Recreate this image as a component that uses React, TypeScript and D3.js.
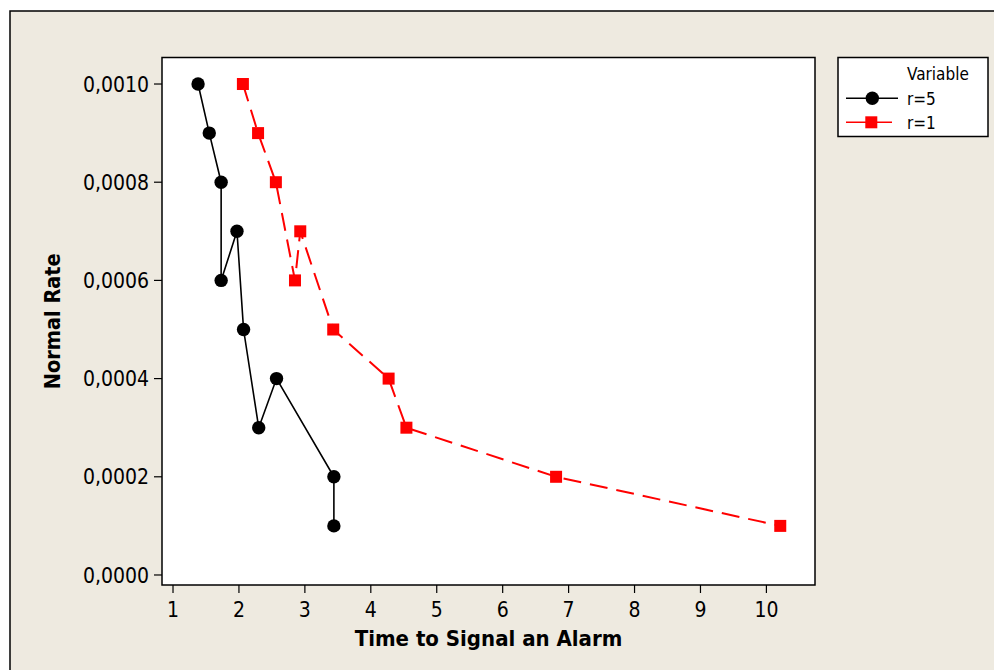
import React from "react";
import * as d3 from "d3";

// Time to signal an alarm for each normal rate, two run-length settings
const rateR5 = [0.001, 0.0009, 0.0008, 0.0006, 0.0007, 0.0005, 0.0003, 0.0004, 0.0002, 0.0001];
const timeR5 = [1.38, 1.55, 1.73, 1.73, 1.97, 2.07, 2.3, 2.57, 3.44, 3.44];
const rateR1 = [0.001, 0.0009, 0.0008, 0.0006, 0.0007, 0.0005, 0.0004, 0.0003, 0.0002, 0.0001];
const timeR1 = [2.06, 2.29, 2.56, 2.85, 2.93, 3.43, 4.27, 4.54, 6.81, 10.21];

const xTicks = [1, 2, 3, 4, 5, 6, 7, 8, 9, 10];
const yTicks = [0, 0.0002, 0.0004, 0.0006, 0.0008, 0.001];
const seriesNames = ["r=5", "r=1"];

const W = 994;
const H = 670;
const FONT = "'DejaVu Sans Condensed', 'DejaVu Sans', sans-serif";
const BG = "#eeeae0";

export default function App() {
  const plot = { left: 162, right: 815, top: 57.5, bottom: 585 };
  const x = d3.scaleLinear().domain([0.833, 10.737]).range([plot.left, plot.right]);
  const y = d3.scaleLinear().domain([-0.0000204, 0.001054]).range([plot.bottom, plot.top]);

  const ptsR5 = timeR5.map((t, i) => [t, rateR5[i]] as [number, number]);
  const ptsR1 = timeR1.map((t, i) => [t, rateR1[i]] as [number, number]);
  const line = d3
    .line<[number, number]>()
    .x((d) => x(d[0]))
    .y((d) => y(d[1]));

  const fmt = (v: number) => v.toFixed(4).replace(".", ",");

  const legX = 838;
  const legY = 57.5;

  return (
    <svg
      width={W}
      height={H}
      style={{ position: "absolute", left: 0, top: 0, display: "block" }}
      fontFamily={FONT}
    >
      <rect x={0} y={0} width={W} height={H} fill="#ffffff" />
      <rect x={10} y={11} width={W + 20} height={H + 20} fill={BG} stroke="#000" strokeWidth={1.5} />

      {/* plot area */}
      <rect
        x={plot.left}
        y={plot.top}
        width={plot.right - plot.left}
        height={plot.bottom - plot.top}
        fill="#fff"
        stroke="#000"
        strokeWidth={1.5}
      />

      {/* y axis */}
      {yTicks.map((v) => (
        <g key={"y" + v}>
          <line x1={plot.left - 8} x2={plot.left} y1={y(v)} y2={y(v)} stroke="#000" strokeWidth={1.2} />
          <text x={plot.left - 13} y={y(v)} dy="0.36em" textAnchor="end" fontSize={21} fill="#000">
            {fmt(v)}
          </text>
        </g>
      ))}

      {/* x axis */}
      {xTicks.map((v) => (
        <g key={"x" + v}>
          <line x1={x(v)} x2={x(v)} y1={plot.bottom} y2={plot.bottom + 8} stroke="#000" strokeWidth={1.2} />
          <text x={x(v)} y={plot.bottom + 32} textAnchor="middle" fontSize={21} fill="#000">
            {v}
          </text>
        </g>
      ))}

      <text
        x={(plot.left + plot.right) / 2}
        y={646}
        textAnchor="middle"
        fontSize={22}
        fontWeight="bold"
        fill="#000"
      >
        Time to Signal an Alarm
      </text>
      <text
        transform={`translate(60, ${(plot.top + plot.bottom) / 2}) rotate(-90)`}
        textAnchor="middle"
        fontSize={21.5}
        fontWeight="bold"
        fill="#000"
      >
        Normal Rate
      </text>

      {/* series r=5 */}
      <path d={line(ptsR5) ?? ""} fill="none" stroke="#000" strokeWidth={1.6} />
      {ptsR5.map((p, i) => (
        <circle key={"c" + i} cx={x(p[0])} cy={y(p[1])} r={6.7} fill="#000" />
      ))}

      {/* series r=1 */}
      <path
        d={line(ptsR1) ?? ""}
        fill="none"
        stroke="#ff0000"
        strokeWidth={2}
        strokeDasharray="18 9"
      />
      {ptsR1.map((p, i) => (
        <rect key={"s" + i} x={x(p[0]) - 6} y={y(p[1]) - 6} width={12} height={12} fill="#ff0000" />
      ))}

      {/* legend */}
      <rect x={legX} y={legY} width={150} height={79} fill="#fff" stroke="#000" strokeWidth={1.5} />
      <text x={907} y={80} fontSize={17} fill="#000">
        Variable
      </text>
      <line x1={846} x2={898} y1={98.3} y2={98.3} stroke="#000" strokeWidth={1.6} />
      <circle cx={872.3} cy={98.3} r={6.7} fill="#000" />
      <text x={907} y={104.5} fontSize={17} fill="#000">
        {seriesNames[0]}
      </text>
      <line x1={846} x2={892} y1={122.3} y2={122.3} stroke="#ff0000" strokeWidth={1.6} />
      <rect x={865.3} y={116.3} width={12} height={12} fill="#ff0000" />
      <text x={907} y={128.5} fontSize={17} fill="#000">
        {seriesNames[1]}
      </text>
    </svg>
  );
}
